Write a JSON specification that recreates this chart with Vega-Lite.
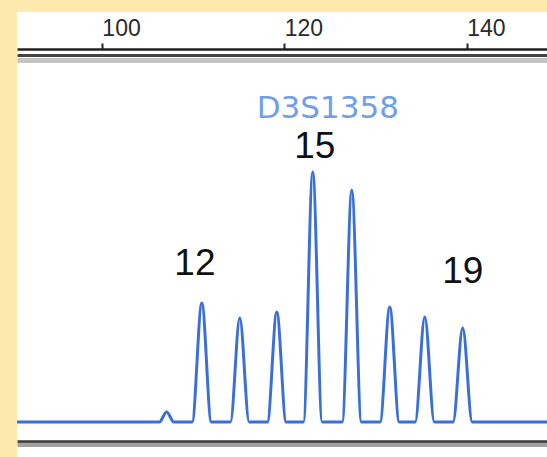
{
  "$schema": "https://vega.github.io/schema/vega-lite/v6.json",
  "autosize": {"type": "none"},
  "padding": {"left": 17, "top": 12, "right": 0, "bottom": 0},
  "width": 530,
  "height": 445,
  "background": "#fde8ad",
  "view": {"fill": "#ffffff", "stroke": null},
  "datasets": {
    "trace": [
      {"size": 90.7, "rfu": 0},
      {"size": 106.3, "rfu": 0},
      {"size": 107.1, "rfu": 10},
      {"size": 107.9, "rfu": 0},
      {"size": 109.9, "rfu": 0},
      {"size": 110.96, "rfu": 119},
      {"size": 112.0, "rfu": 0},
      {"size": 114.1, "rfu": 0},
      {"size": 115.12, "rfu": 104},
      {"size": 116.15, "rfu": 0},
      {"size": 118.15, "rfu": 0},
      {"size": 119.18, "rfu": 110},
      {"size": 120.2, "rfu": 0},
      {"size": 122.1, "rfu": 0},
      {"size": 123.12, "rfu": 250},
      {"size": 124.15, "rfu": 0},
      {"size": 126.35, "rfu": 0},
      {"size": 127.4, "rfu": 232},
      {"size": 128.45, "rfu": 0},
      {"size": 130.5, "rfu": 0},
      {"size": 131.56, "rfu": 115},
      {"size": 132.6, "rfu": 0},
      {"size": 134.35, "rfu": 0},
      {"size": 135.4, "rfu": 105},
      {"size": 136.45, "rfu": 0},
      {"size": 138.5, "rfu": 0},
      {"size": 139.56, "rfu": 94},
      {"size": 140.6, "rfu": 0},
      {"size": 148.8, "rfu": 0}
    ],
    "alleles": [
      {"size": 110.2, "rfu": 147, "label": "12"},
      {"size": 123.34, "rfu": 264, "label": "15"},
      {"size": 139.56, "rfu": 139, "label": "19"}
    ],
    "marker": [
      {"size": 124.77, "rfu": 304, "label": "D3S1358"}
    ]
  },
  "layer": [
    {
      "data": {"name": "trace"},
      "mark": {"type": "line", "color": "#3b6fd8", "strokeWidth": 3, "interpolate": "monotone", "clip": true},
      "encoding": {
        "x": {
          "field": "size", "type": "quantitative",
          "scale": {"domain": [90.7, 148.8], "nice": false, "zero": false},
          "axis": {
            "orient": "top", "offset": -37, "title": null,
            "values": [100, 120, 140], "grid": false,
            "domainColor": "#222222", "domainWidth": 2.5,
            "tickColor": "#222222", "tickWidth": 2, "tickSize": 6,
            "labelAlign": "left", "labelDx": 5, "labelBaseline": "alphabetic",
            "labelPadding": 8, "labelFont": "Liberation Sans", "labelFontSize": 23,
            "labelColor": "#2a2a2a"
          }
        },
        "y": {
          "field": "rfu", "type": "quantitative",
          "scale": {"domain": [-35, 410], "nice": false, "zero": false},
          "axis": {
            "values": [362, 367, -22, -19],
            "grid": true, "domain": false, "ticks": false, "labels": false, "title": null,
            "gridColor": {"condition": [
              {"test": "datum.value == 367", "value": "#444444"},
              {"test": "datum.value == -19", "value": "#3a3a3a"},
              {"test": "datum.value == -22", "value": "#a0a0a0"}
            ], "value": "#c4c4c4"},
            "gridWidth": {"condition": [
              {"test": "datum.value == 367", "value": 3},
              {"test": "datum.value == -19", "value": 2.5},
              {"test": "datum.value == -22", "value": 5}
            ], "value": 5},
            "gridOpacity": 1
          }
        }
      }
    },
    {
      "data": {"name": "alleles"},
      "mark": {"type": "text", "font": "Liberation Sans", "fontSize": 37, "color": "#111111", "align": "center", "baseline": "alphabetic"},
      "encoding": {
        "x": {"field": "size", "type": "quantitative"},
        "y": {"field": "rfu", "type": "quantitative"},
        "text": {"field": "label"}
      }
    },
    {
      "data": {"name": "marker"},
      "mark": {"type": "text", "font": "DejaVu Sans", "fontSize": 31, "color": "#6f9fe8", "align": "center", "baseline": "alphabetic"},
      "encoding": {
        "x": {"field": "size", "type": "quantitative"},
        "y": {"field": "rfu", "type": "quantitative"},
        "text": {"field": "label"}
      }
    }
  ]
}
